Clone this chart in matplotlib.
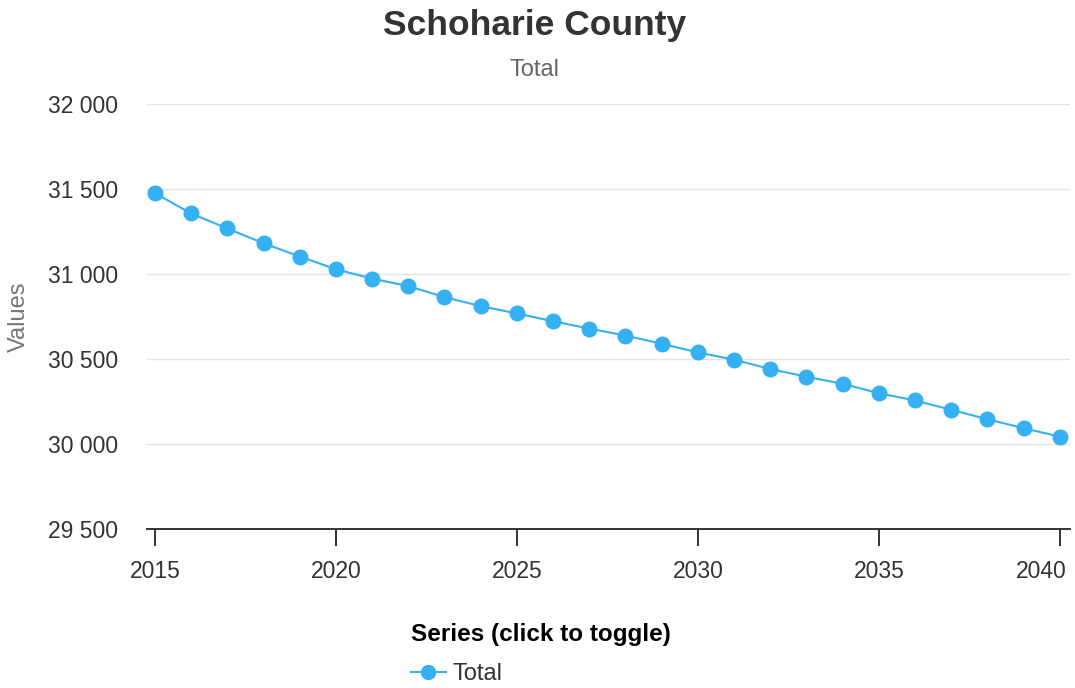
import matplotlib
matplotlib.use("Agg")
import matplotlib.pyplot as plt
import matplotlib.transforms as mtransforms
from matplotlib.ticker import FuncFormatter
from matplotlib.lines import Line2D

plt.rcParams['font.family'] = ['Liberation Sans', 'DejaVu Sans']

years = list(range(2015, 2041))
total = [31476, 31356, 31268, 31181, 31103, 31028, 30973, 30929, 30864, 30811,
         30768, 30722, 30679, 30638, 30590, 30539, 30496, 30441, 30396, 30354,
         30299, 30256, 30201, 30146, 30093, 30043]
yticks = [29500, 30000, 30500, 31000, 31500, 32000]
xticks = [2015, 2020, 2025, 2030, 2035, 2040]

color = '#35b0f3'

fig = plt.figure(figsize=(10.75, 6.88), dpi=100)
ax = fig.add_axes([0.1367, 0.2311, 0.8586, 0.6177])

ax.plot(years, total, color=color, lw=1.5, marker='o', ms=10.5, zorder=3)

ax.set_xlim(2014.78, 2040.28)
ax.set_ylim(29500, 32000)
ax.set_yticks(yticks)
ax.set_xticks(xticks)
ax.yaxis.set_major_formatter(FuncFormatter(lambda v, p: f"{int(v):,}".replace(",", " ")))
ax.grid(axis='y', color='#e3e3e3', lw=1)
ax.set_axisbelow(True)
for s in ['top', 'right', 'left']:
    ax.spines[s].set_visible(False)
ax.spines['bottom'].set_color('#333333')
ax.spines['bottom'].set_linewidth(1.4)
ax.tick_params(axis='y', length=0, labelsize=16.5, labelcolor='#333333', pad=21)
ax.tick_params(axis='x', length=12, width=1.4, color='#333333', labelsize=16.5,
               labelcolor='#333333', pad=10)

# last x label pushed inside the plot, as in the original
fig.canvas.draw()
last = ax.get_xticklabels()[-1]
last.set_transform(last.get_transform() +
                   mtransforms.ScaledTranslation(-19 / 100, 0, fig.dpi_scale_trans))

ax.set_ylabel('Values', fontsize=17, color='#777777')
ax.yaxis.set_label_coords(-0.1268, 0.5)

fig.text(0.497, 0.963, 'Schoharie County', ha='center', va='center',
         fontsize=25.5, fontweight='bold', color='#333333')
fig.text(0.497, 0.898, 'Total', ha='center', va='center', fontsize=17, color='#666666')

handle = Line2D([], [], color=color, lw=1.5, marker='o', ms=10)
leg = fig.legend([handle], ['Total'], loc='center', bbox_to_anchor=(0.503, 0.049),
                 frameon=False, fontsize=17, title='Series (click to toggle)',
                 title_fontproperties={'weight': 'bold', 'size': 17.5},
                 handlelength=1.5, handletextpad=0.25, borderpad=0.2, labelspacing=0.8)
leg._legend_box.align = 'left'
leg._legend_box.sep = 12
for t in leg.get_texts():
    t.set_color('#333333')

fig.savefig('out.png', dpi=100)
